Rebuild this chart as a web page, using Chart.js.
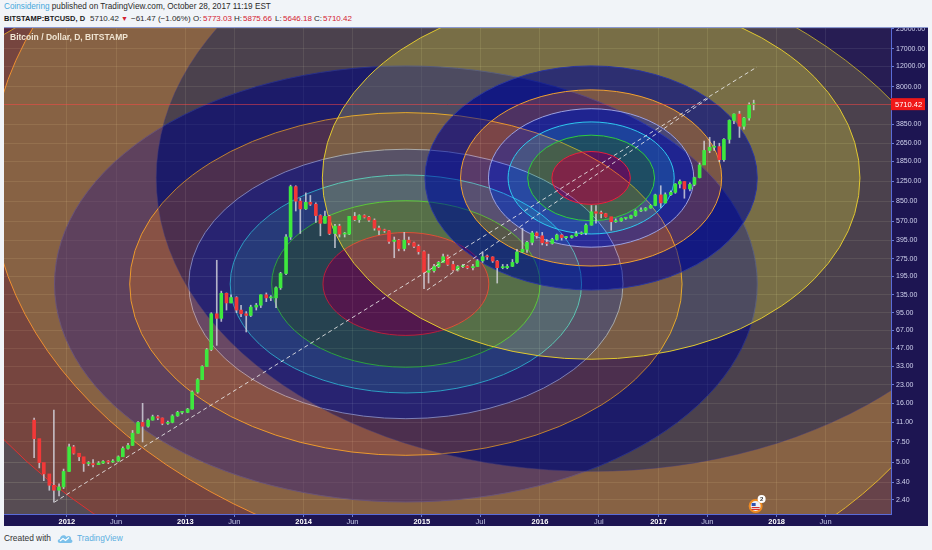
<!DOCTYPE html>
<html>
<head>
<meta charset="utf-8">
<script src="https://cdn.jsdelivr.net/npm/chart.js@4.4.1/dist/chart.umd.min.js"></script>
<style>
  html, body { margin: 0; padding: 0; width: 932px; height: 550px; overflow: hidden; background: #f1f4f8; font-family: "Liberation Sans", Arial, sans-serif; }
  .t { position: absolute; white-space: nowrap; font-size: 8px; line-height: 9px; color: #2a2a2a; }
  .red { color: #d42030; }
  #wrap { position: absolute; left: 4px; top: 27px; width: 924px; height: 499px; }
  #wrap canvas { display: block; }
</style>
</head>
<body>
<div class="t" style="left:4px;top:2px;font-size:8.2px"><span style="color:#45a8dc">Coinsidering</span> published on TradingView.com, October 28, 2017 11:19 EST</div>
<div class="t" style="left:4px;top:14px;font-weight:bold;font-size:7.5px;color:#1a1a1a">BITSTAMP:BTCUSD, D</div>
<div class="t" style="left:90px;top:14px">5710.42</div>
<div class="t red" style="left:121px;top:14px;font-size:7px">&#9660;</div>
<div class="t" style="left:131px;top:14px">&minus;61.47 (&minus;1.06%)</div>
<div class="t" style="left:193px;top:14px">O:</div><div class="t red" style="left:203px;top:14px">5773.03</div>
<div class="t" style="left:234px;top:14px">H:</div><div class="t red" style="left:243px;top:14px">5875.66</div>
<div class="t" style="left:275px;top:14px">L:</div><div class="t red" style="left:283px;top:14px">5646.18</div>
<div class="t" style="left:314px;top:14px">C:</div><div class="t red" style="left:323px;top:14px">5710.42</div>

<div id="wrap"><canvas id="chart" width="924" height="499"></canvas></div>

<div class="t" style="left:4px;top:534px;font-size:8.4px;color:#333">Created with</div>
<svg style="position:absolute;left:57px;top:533px" width="16" height="11" viewBox="0 0 16 11">
  <path d="M3 10 C0 10 0 6 3 6 C3 2 8 1 9.5 4 C11 2 15 3 14 6.5 C16 7 16 10 13.5 10 Z" fill="#7cc0ea"/>
  <path d="M3 8 L6 5.5 L8.5 7.5 L12 4.5" stroke="#fff" stroke-width="1.2" fill="none"/>
</svg>
<div class="t" style="left:77px;top:534px;font-size:8.3px;color:#5aaee0">TradingView</div>

<script>
// half-month candles, Bitstamp BTC/USD
const candleDates = [
  '2011-09-15','2011-10-01','2011-10-15','2011-11-01','2011-11-15','2011-12-01','2011-12-15',
  '2012-01-01','2012-01-15','2012-02-01','2012-02-15','2012-03-01','2012-03-15','2012-04-01','2012-04-15','2012-05-01','2012-05-15','2012-06-01','2012-06-15',
  '2012-07-01','2012-07-15','2012-08-01','2012-08-15','2012-09-01','2012-09-15','2012-10-01','2012-10-15','2012-11-01','2012-11-15','2012-12-01','2012-12-15',
  '2013-01-01','2013-01-15','2013-02-01','2013-02-15','2013-03-01','2013-03-15','2013-04-01','2013-04-15','2013-05-01','2013-05-15','2013-06-01','2013-06-15',
  '2013-07-01','2013-07-15','2013-08-01','2013-08-15','2013-09-01','2013-09-15','2013-10-01','2013-10-15','2013-11-01','2013-11-15','2013-12-01','2013-12-15',
  '2014-01-01','2014-01-15','2014-02-01','2014-02-15','2014-03-01','2014-03-15','2014-04-01','2014-04-15','2014-05-01','2014-05-15','2014-06-01','2014-06-15',
  '2014-07-01','2014-07-15','2014-08-01','2014-08-15','2014-09-01','2014-09-15','2014-10-01','2014-10-15','2014-11-01','2014-11-15','2014-12-01','2014-12-15',
  '2015-01-01','2015-01-15','2015-02-01','2015-02-15','2015-03-01','2015-03-15','2015-04-01','2015-04-15','2015-05-01','2015-05-15','2015-06-01','2015-06-15',
  '2015-07-01','2015-07-15','2015-08-01','2015-08-15','2015-09-01','2015-09-15','2015-10-01','2015-10-15','2015-11-01','2015-11-15','2015-12-01','2015-12-15',
  '2016-01-01','2016-01-15','2016-02-01','2016-02-15','2016-03-01','2016-03-15','2016-04-01','2016-04-15','2016-05-01','2016-05-15','2016-06-01','2016-06-15',
  '2016-07-01','2016-07-15','2016-08-01','2016-08-15','2016-09-01','2016-09-15','2016-10-01','2016-10-15','2016-11-01','2016-11-15','2016-12-01','2016-12-15',
  '2017-01-01','2017-01-15','2017-02-01','2017-02-15','2017-03-01','2017-03-15','2017-04-01','2017-04-15','2017-05-01','2017-05-15','2017-06-01','2017-06-15',
  '2017-07-01','2017-07-15','2017-08-01','2017-08-15','2017-09-01','2017-09-15','2017-10-01','2017-10-15'
];
const firstOpen = 11.5;
const candleCloses = [
  8.0, 5.0, 4.0, 3.2, 2.9, 3.1, 4.2,
  6.8, 6.0, 5.6, 4.9, 4.9, 4.8, 4.95, 5.1, 5.05, 5.15, 5.6, 6.6, 7.0, 8.9, 11.0, 10.2, 11.5, 12.3, 12.0, 10.8, 11.0, 12.5, 13.4, 13.4,
  14.3, 20.0, 25.5, 33.0, 46, 93, 85, 139, 115, 128, 100, 93, 90, 106, 110, 135, 127, 127, 155, 205, 420, 1130, 850, 730,
  830, 800, 640, 550, 630, 450, 520, 445, 445, 630, 590, 640, 620, 585, 500, 480, 475, 385, 395, 335, 395, 375, 350, 315,
  210, 217, 235, 255, 285, 245, 220, 235, 237, 230, 235, 263, 285, 284, 262, 230, 230, 236, 255, 313, 330, 378, 455, 430,
  375, 370, 400, 437, 415, 416, 430, 448, 456, 530, 690, 670, 665, 625, 567, 575, 607, 608, 640, 700, 712, 742, 780, 960,
  820, 965, 1010, 1190, 1250, 1080, 1180, 1350, 1730, 2300, 2450, 2480, 1920, 2860, 4150, 4700, 3700, 4350, 5650, 5710
];
const candleHighs = [
  12, 7, 4.6, 3.6, 14, 3.3, 4.4,
  7.2, 7.0, 6.0, 5.5, 5.1, 5.3, 5.1, 5.2, 5.2, 5.3, 5.7, 6.8, 7.3, 9.4, 11.2, 16, 11.8, 12.7, 12.6, 12.0, 11.3, 12.8, 13.7, 13.7,
  14.5, 20.5, 26, 33.5, 47, 95, 266, 145, 140, 135, 130, 110, 97, 110, 114, 135, 140, 133, 158, 210, 440, 1163, 1150, 900,
  1000, 950, 820, 650, 700, 640, 540, 540, 460, 630, 680, 650, 650, 630, 600, 520, 490, 480, 420, 400, 460, 420, 380, 360,
  320, 300, 245, 260, 300, 295, 260, 240, 245, 240, 245, 270, 315, 295, 285, 265, 245, 245, 270, 330, 500, 385, 470, 465,
  460, 400, 410, 445, 440, 425, 435, 470, 465, 545, 780, 780, 700, 670, 620, 600, 612, 612, 645, 715, 745, 750, 790, 975,
  1150, 1000, 1040, 1200, 1290, 1250, 1220, 1360, 1800, 2760, 2980, 2760, 2650, 2900, 4200, 4720, 4970, 4400, 5860, 6180
];
const candleLows = [
  5.5, 4.5, 3.5, 2.9, 2.3, 2.6, 3.0,
  4.2, 5.9, 5.2, 4.2, 4.7, 4.6, 4.8, 4.9, 4.9, 5.0, 5.1, 5.6, 6.5, 7.0, 8.9, 7.5, 10.0, 11.5, 11.6, 10.5, 10.6, 10.9, 12.4, 13.0,
  13.3, 14.3, 19.5, 25.5, 33, 45, 50, 80, 100, 115, 95, 88, 65, 88, 100, 105, 118, 120, 105, 150, 200, 400, 700, 450,
  720, 780, 560, 430, 550, 440, 340, 420, 420, 440, 580, 560, 610, 570, 480, 440, 460, 370, 280, 320, 320, 360, 340, 300,
  152, 170, 210, 230, 255, 240, 215, 215, 230, 225, 220, 235, 255, 270, 255, 170, 225, 225, 235, 250, 310, 310, 360, 410,
  360, 355, 365, 395, 395, 405, 410, 425, 440, 440, 530, 550, 610, 620, 480, 560, 570, 595, 605, 630, 690, 700, 740, 775,
  750, 820, 950, 990, 1100, 900, 1040, 1150, 1340, 1750, 2200, 2300, 1840, 1850, 2650, 3900, 2970, 3500, 4160, 5100
];
const lastPrice = 5710.42;

// axes
const xMinDate = '2011-06-21';
const xMaxDate = '2018-12-20';
const xTickDates = ['2012-01-01','2012-06-01','2013-01-01','2013-06-01','2014-01-01','2014-06-01','2015-01-01',
  '2015-07-01','2016-01-01','2016-07-01','2017-01-01','2017-06-01','2018-01-01','2018-06-01'];
const xTickLabels = ['2012','Jun','2013','Jun','2014','Jun','2015','Jul','2016','Jul','2017','Jun','2018','Jun'];
const yMin = 1.82;
const yMax = 26000;
const yTickValues = [2.4, 3.4, 5, 7.5, 11, 16, 23, 33, 47, 67, 95, 135, 195, 275, 395, 570, 850, 1250, 1850,
  2650, 3850, 8000, 12000, 17000, 25000];

// dashed trend lines
const trendStartDates = ['2011-11-24', '2015-01-17'];
const trendStartPrices = [2.3, 148];
const trendEndDates = ['2017-11-01', '2017-06-10'];
const trendEndPrices = [11850, 6573];

// two fib circle drawings (centre, level-1 radius in days and in decades of price)
const fibLevels = [0.236, 0.382, 0.5, 0.618, 0.786, 1, 1.618, 2.618, 3.618, 4.236];
const fibCentreDates = ['2014-11-13', '2016-06-07'];
const fibCentrePrices = [167, 1340];
const fibRadiusDays = [1085, 513];
const fibRadiusDecades = [1.86, 0.956];

const fibFills = ['rgba(185,15,55,0.40)', 'rgba(40,170,60,0.36)', 'rgba(40,150,225,0.33)', 'rgba(45,60,200,0.30)',
  'rgba(215,115,40,0.28)', 'rgba(15,25,135,0.58)', 'rgba(200,188,40,0.30)', 'rgba(40,30,60,0.25)',
  'rgba(230,140,40,0.34)', 'rgba(180,55,25,0.34)'];
const fibLines = ['#e8203c', '#2ecc40', '#2ec8f0', '#9aa0e0', '#f0a030', '#2a36a0', '#e0c830', 'rgba(70,60,120,0.5)',
  '#f09030', '#e03030'];

const DAY = 86400000;
const toMs = d => Date.parse(d + 'T00:00:00Z');
const font = "'Liberation Sans', Arial, sans-serif";

const candleOpens = candleCloses.map((c, i) => i ? candleCloses[i - 1] : firstOpen);
const candleX = candleDates.map(d => toMs(d) + 7 * DAY);

const overlay = {
  id: 'overlay',
  beforeDraw(chart) {
    const { ctx, chartArea: a } = chart;
    ctx.save();
    ctx.fillStyle = '#1d1552';
    ctx.fillRect(0, 0, chart.width, chart.height);
    ctx.fillStyle = '#271c66';
    ctx.fillRect(a.left, a.top, a.right - a.left, a.bottom - a.top);
    ctx.restore();
  },
  beforeDatasetsDraw(chart) {
    const { ctx, chartArea: a, scales: { x, y } } = chart;
    ctx.save();
    ctx.beginPath();
    ctx.rect(a.left, a.top, a.right - a.left, a.bottom - a.top);
    ctx.clip();
    fibCentreDates.forEach((d, s) => {
      const t = toMs(d), p = fibCentrePrices[s];
      const cx = x.getPixelForValue(t), cy = y.getPixelForValue(p);
      const rx = x.getPixelForValue(t + fibRadiusDays[s] * DAY) - cx;
      const ry = cy - y.getPixelForValue(p * Math.pow(10, fibRadiusDecades[s]));
      fibLevels.forEach((lv, i) => {
        ctx.beginPath();
        ctx.ellipse(cx, cy, rx * lv, ry * lv, 0, 0, Math.PI * 2);
        if (i > 0) {
          const pl = fibLevels[i - 1];
          ctx.moveTo(cx + rx * pl, cy);
          ctx.ellipse(cx, cy, rx * pl, ry * pl, 0, 0, Math.PI * 2, true);
        }
        ctx.fillStyle = fibFills[i];
        ctx.fill('evenodd');
      });
      ctx.lineWidth = 1;
      fibLevels.forEach((lv, i) => {
        ctx.beginPath();
        ctx.ellipse(cx, cy, rx * lv, ry * lv, 0, 0, Math.PI * 2);
        ctx.strokeStyle = fibLines[i];
        ctx.stroke();
      });
    });
    ctx.restore();
  },
  afterDatasetsDraw(chart) {
    const { ctx, chartArea: a, scales: { x, y } } = chart;
    ctx.save();
    ctx.beginPath();
    ctx.rect(a.left, a.top, a.right - a.left, a.bottom - a.top);
    ctx.clip();
    // last price line
    const py = Math.round(y.getPixelForValue(lastPrice)) + 0.5;
    ctx.strokeStyle = 'rgba(255,70,70,0.5)';
    ctx.lineWidth = 1;
    ctx.beginPath(); ctx.moveTo(a.left, py); ctx.lineTo(a.right, py); ctx.stroke();
    // trend lines
    ctx.setLineDash([4, 3]);
    ctx.strokeStyle = 'rgba(235,235,235,0.85)';
    trendStartDates.forEach((d, i) => {
      ctx.beginPath();
      ctx.moveTo(x.getPixelForValue(toMs(d)), y.getPixelForValue(trendStartPrices[i]));
      ctx.lineTo(x.getPixelForValue(toMs(trendEndDates[i])), y.getPixelForValue(trendEndPrices[i]));
      ctx.stroke();
    });
    ctx.restore();
  },
  afterDraw(chart) {
    const { ctx, chartArea: a, scales: { x, y } } = chart;
    ctx.save();
    // panel top edge
    ctx.fillStyle = '#8a98d0';
    ctx.fillRect(0, 0, chart.width, 1);
    ctx.font = 'bold 8.5px ' + font;
    ctx.fillStyle = '#efe4d2';
    ctx.textBaseline = 'middle';
    ctx.fillText('Bitcoin / Dollar, D, BITSTAMP', 6, 11);
    // last price label
    const py = y.getPixelForValue(lastPrice);
    ctx.fillStyle = '#f01818';
    ctx.fillRect(a.right, py - 6, 34, 12);
    ctx.fillStyle = '#ffffff';
    ctx.font = '7.5px ' + font;
    ctx.fillText(lastPrice.toFixed(2), a.right + 4, py + 0.5);
    // event flag
    const fx = x.getPixelForValue(toMs('2017-10-28')), fy = a.bottom - 8;
    ctx.beginPath(); ctx.arc(fx, fy, 6, 0, Math.PI * 2);
    ctx.fillStyle = '#eef0f4'; ctx.fill();
    ctx.lineWidth = 2; ctx.strokeStyle = '#f08a20'; ctx.stroke();
    ctx.fillStyle = '#d43030';
    ctx.fillRect(fx - 4, fy + 1, 8, 1.2); ctx.fillRect(fx - 4, fy + 3, 8, 1);
    ctx.fillStyle = '#3050b0';
    ctx.fillRect(fx - 4, fy - 3, 4, 3);
    ctx.beginPath(); ctx.arc(fx + 6, fy - 7, 4, 0, Math.PI * 2);
    ctx.fillStyle = '#ffffff'; ctx.fill();
    ctx.fillStyle = '#333'; ctx.font = 'bold 6px ' + font; ctx.textAlign = 'center';
    ctx.fillText('2', fx + 6, fy - 6.5);
    ctx.restore();
  }
};

const isYear = i => /^\d/.test(xTickLabels[i] || '');

new Chart(document.getElementById('chart'), {
  type: 'bar',
  data: {
    datasets: [{
      label: 'body',
      data: candleX.map((t, i) => ({ x: t, y: [candleOpens[i], candleCloses[i]] })),
      backgroundColor: candleCloses.map((c, i) => c >= candleOpens[i] ? '#3ee83e' : '#f23838'),
      barThickness: 3,
      minBarLength: 1,
      grouped: false
    }, {
      label: 'wick',
      data: candleX.map((t, i) => ({ x: t, y: [candleLows[i], candleHighs[i]] })),
      backgroundColor: 'rgba(215,215,225,0.8)',
      barThickness: 1,
      grouped: false
    }]
  },
  options: {
    responsive: false,
    animation: false,
    maintainAspectRatio: false,
    layout: { padding: 0 },
    plugins: { legend: { display: false }, tooltip: { enabled: false } },
    scales: {
      x: {
        type: 'linear',
        min: toMs(xMinDate),
        max: toMs(xMaxDate),
        offset: false,
        z: 1,
        grid: { color: 'rgba(215,215,235,0.17)', tickColor: '#6a7cd0', tickLength: 3, offset: false },
        border: { color: '#5a6cd8' },
        ticks: {
          autoSkip: false, maxRotation: 0, padding: 0,
          callback: (v, i) => xTickLabels[i],
          color: c => isYear(c.index) ? '#ffffff' : '#c4c8e6',
          font: c => ({ family: font, size: 7.5, weight: isYear(c.index) ? 'bold' : 'normal' })
        },
        afterBuildTicks: s => { s.ticks = xTickDates.map(d => ({ value: toMs(d) })); },
        afterFit: s => { s.height = 12; s.paddingLeft = 0; s.paddingRight = 0; }
      },
      y: {
        type: 'logarithmic',
        position: 'right',
        min: yMin,
        max: yMax,
        z: 1,
        grid: { color: 'rgba(215,215,235,0.17)', tickColor: '#6a7cd0', tickLength: 3 },
        border: { color: '#5a6cd8' },
        ticks: {
          autoSkip: false, padding: 2, color: '#d0d2ee',
          font: { family: font, size: 7 },
          callback: v => Number(v).toFixed(2)
        },
        afterBuildTicks: s => { s.ticks = yTickValues.map(v => ({ value: v })); },
        afterFit: s => { s.width = 37; s.paddingTop = 0; s.paddingBottom = 0; }
      }
    }
  },
  plugins: [overlay]
});
</script>
</body>
</html>
